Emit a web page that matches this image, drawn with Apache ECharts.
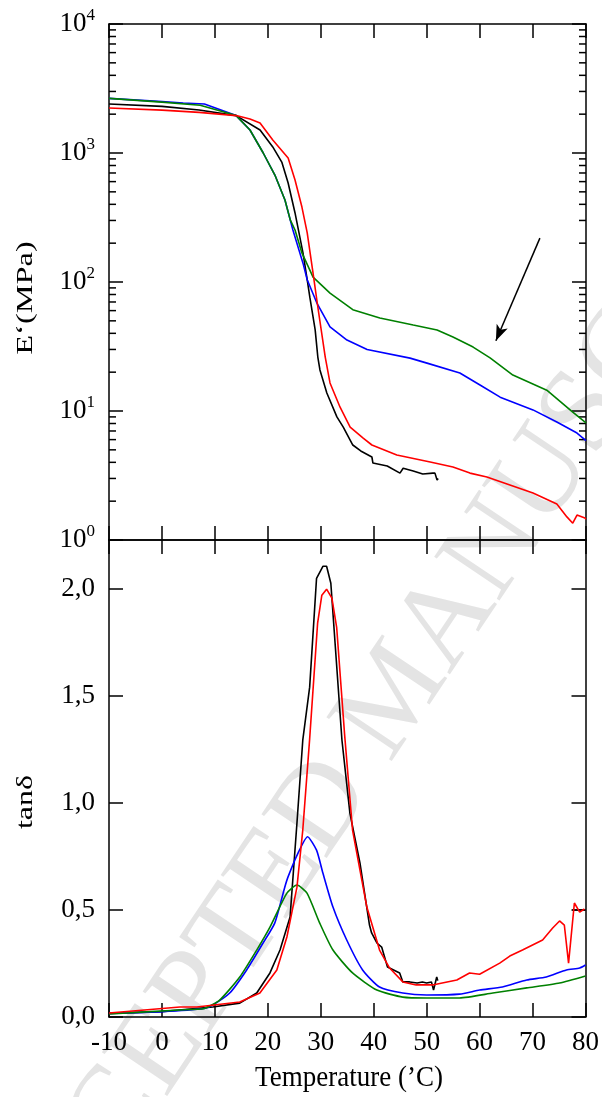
<!DOCTYPE html>
<html>
<head>
<meta charset="utf-8">
<script src="https://cdn.jsdelivr.net/npm/echarts@6/dist/echarts.min.js"></script>
<style>
  html, body { margin: 0; padding: 0; background: #fff; }
  #chart { width: 602px; height: 1097px; }
</style>
</head>
<body>
<div id="chart"></div>
<script>
// ---- data ----
// upper panel: storage modulus E' (MPa), log axis
const tBlackE = [-10, 0, 7, 14, 18.5, 20.9, 22.6, 23.8, 25.1, 26.6, 27.4, 27.9, 28.9, 29.4, 29.8, 31.1, 33.0, 34.2, 36.0, 37.5, 39.6, 39.8, 42.5, 44.9, 45.5, 47.4, 49.2, 51.1, 51.5, 51.9, 52.1];
const eBlack  = [2400, 2300, 2155, 1950, 1507, 1114, 851, 585, 343, 168, 104, 76, 42.5, 26.2, 20.8, 13.8, 9.0, 7.5, 5.45, 4.9, 4.4, 3.95, 3.75, 3.3, 3.6, 3.43, 3.25, 3.3, 3.3, 2.92, 3.0];

const tRedE = [-10, 0, 7, 14, 16.6, 18.5, 20.9, 23.8, 25.1, 26.4, 27.4, 28.5, 29.4, 30.8, 31.7, 33.6, 35.5, 37.9, 39.6, 44.3, 50.6, 54.9, 58.1, 61.3, 65.1, 70.0, 74.5, 76.4, 77.5, 78.3, 79.8, 80];
const eRed  = [2230, 2150, 2066, 1950, 1835, 1710, 1262, 915, 618, 381, 240, 117, 64, 26.2, 16.5, 10.7, 7.5, 6.18, 5.45, 4.56, 4.02, 3.68, 3.3, 3.08, 2.72, 2.31, 1.90, 1.51, 1.35, 1.56, 1.48, 1.45];

const tBlueE = [-10, 0, 4, 8, 14, 16.6, 19.1, 21.3, 23.2, 24.7, 26.6, 27.4, 29.2, 31.7, 34.9, 38.7, 46.8, 50.0, 56.2, 60.0, 63.8, 70.0, 74.5, 78.3, 80];
const eBlue  = [2650, 2500, 2440, 2400, 1950, 1507, 1000, 675, 432, 253, 140, 104, 69, 44.8, 35.5, 30, 25.7, 23.5, 19.7, 15.9, 12.8, 10.2, 8.22, 6.75, 5.9];

const tGreenE = [-10, 0, 7.2, 14, 16.6, 19.1, 21.3, 23.2, 24.2, 25.1, 26.4, 28.5, 31.7, 36.0, 41.1, 47.4, 51.9, 54.9, 58.7, 61.9, 66.2, 72.6, 77.5, 80];
const eGreen  = [2650, 2480, 2343, 1950, 1507, 1000, 675, 432, 303, 253, 168, 109, 82, 61, 52.6, 46.4, 42.5, 37.5, 31.3, 25.8, 19.0, 14.5, 9.8, 8.1];

// lower panel: tan delta
const tBlackT = [-10, 0, 9.6, 14.7, 17.9, 20.4, 22.3, 24.2, 25.5, 26.6, 27.9, 29.2, 30.4, 31.1, 31.9, 34.0, 35.5, 37.4, 39.2, 39.6, 40.6, 41.5, 42.6, 44.9, 45.5, 46.8, 48.2, 49.2, 50.0, 50.9, 51.3, 51.9, 52.1, 65, 77.5, 80];
const tanBlack = [0.017, 0.025, 0.047, 0.065, 0.112, 0.206, 0.313, 0.467, 0.907, 1.294, 1.542, 2.051, 2.107, 2.107, 2.028, 1.294, 0.953, 0.72, 0.43, 0.393, 0.346, 0.327, 0.234, 0.206, 0.164, 0.164, 0.159, 0.164, 0.159, 0.164, 0.126, 0.187, 0.17, null, 0.50, 0.50];

const tRedT = [-10, 3.4, 6.6, 14.7, 18.5, 21.7, 23.6, 25.5, 26.6, 27.9, 29.4, 30.2, 31.1, 32.1, 33.0, 34.5, 36.0, 38.7, 41.1, 43.0, 45.5, 48, 51.1, 55.7, 58.1, 60.0, 63.8, 65.7, 68.1, 71.9, 73.8, 75.1, 76.0, 76.8, 77.9, 78.9, 79.8];
const tanRed = [0.019, 0.047, 0.047, 0.070, 0.112, 0.220, 0.374, 0.607, 0.874, 1.30, 1.841, 1.972, 2.0, 1.958, 1.822, 1.32, 0.874, 0.514, 0.313, 0.229, 0.164, 0.15, 0.15, 0.173, 0.206, 0.20, 0.252, 0.285, 0.313, 0.36, 0.416, 0.449, 0.43, 0.252, 0.533, 0.49, 0.505];

const tBlueT = [-10, 0, 8, 9.6, 12.8, 16.0, 19.1, 21.3, 23.2, 23.8, 25.7, 27.5, 29.2, 30.4, 32.3, 34.9, 37.9, 41.1, 45.5, 50.0, 56.2, 60.0, 64.3, 68.9, 72.6, 76.4, 78.9, 80];
const tanBlue = [0.017, 0.025, 0.04, 0.056, 0.112, 0.220, 0.346, 0.439, 0.607, 0.654, 0.766, 0.843, 0.78, 0.673, 0.514, 0.36, 0.22, 0.14, 0.112, 0.103, 0.107, 0.126, 0.14, 0.173, 0.187, 0.22, 0.229, 0.243];

const tGreenT = [-10, 3.4, 8, 10.9, 14.7, 17.9, 20.4, 23.6, 25.5, 27.4, 29.8, 32.3, 36.0, 40.6, 45.5, 50.0, 56.2, 62.5, 68.9, 75.1, 80];
const tanGreen = [0.014, 0.033, 0.04, 0.079, 0.187, 0.313, 0.42, 0.579, 0.617, 0.579, 0.439, 0.313, 0.206, 0.126, 0.093, 0.089, 0.089, 0.112, 0.136, 0.159, 0.192];

// minor ticks of the log axis
const logMinorTicks = [];
[1, 10, 100, 1000].forEach(function (d) {
  for (let k = 2; k <= 9; k++) logMinorTicks.push(d * k);
});

// arrow in the upper panel, [temperature, E']
const arrowFrom = [71.3, 219];
const arrowTo = [63.0, 35];

const font = "'Liberation Serif', 'Times New Roman', serif";

function zip(xs, ys) {
  return xs.map(function (x, i) { return [x, ys[i]]; });
}

let chart = echarts.init(document.getElementById('chart'));

let axisLine = { show: true, onZero: false, lineStyle: { color: '#000', width: 1.5 } };
let majorTick = { show: true, inside: true, length: 14, lineStyle: { color: '#000', width: 1.5 } };

function xAx(grid, pos, labels) {
  return {
    type: 'value', gridIndex: grid, position: pos,
    min: -10, max: 80, interval: 10,
    axisLine: axisLine, axisTick: majorTick,
    splitLine: { show: false },
    axisLabel: { show: labels, fontFamily: font, fontSize: 27, color: '#000', margin: 12 }
  };
}

function line(name, xi, yi, xs, ys, color, smooth) {
  return {
    name: name, type: 'line', xAxisIndex: xi, yAxisIndex: yi,
    data: zip(xs, ys), showSymbol: false, connectNulls: false,
    smooth: smooth,
    lineStyle: { color: color, width: 1.6 }
  };
}

let option = {
  animation: false,
  backgroundColor: '#fff',
  grid: [
    { left: 109, top: 24, width: 477, height: 516 },
    { left: 109, top: 540, width: 477, height: 477 }
  ],
  graphic: [
    {
      type: 'text', z: -10, x: 398, y: 695, rotation: 0.98,
      style: {
        text: 'ACCEPTED MANUSCRIPT', fill: '#e4e4e4',
        font: '120px ' + font, align: 'center', verticalAlign: 'middle'
      }
    },
    {
      type: 'text', x: 26, y: 298, rotation: Math.PI / 2, scaleX: 1.35,
      style: { text: 'E‘(MPa)', fill: '#000', font: '24px ' + font, align: 'center', verticalAlign: 'middle' }
    },
    {
      type: 'text', x: 26, y: 802, rotation: Math.PI / 2, scaleX: 1.33,
      style: { text: 'tanδ', fill: '#000', font: '24px ' + font, align: 'center', verticalAlign: 'middle' }
    },
    {
      type: 'text', x: 349, y: 1078, scaleY: 1.1,
      style: { text: 'Temperature (’C)', fill: '#000', font: '27px ' + font, align: 'center', verticalAlign: 'middle' }
    }
  ],
  xAxis: [
    xAx(0, 'bottom', false),
    xAx(0, 'top', false),
    xAx(1, 'bottom', true),
    xAx(1, 'top', false)
  ],
  yAxis: [
    {
      type: 'log', logBase: 10, gridIndex: 0, position: 'left', min: 1, max: 10000,
      axisLine: axisLine, axisTick: majorTick, splitLine: { show: false },
      axisLabel: {
        margin: 14, color: '#000',
        formatter: function (v) {
          return '{b|10}{s|' + Math.round(Math.log10(v)) + '}';
        },
        rich: {
          b: { fontFamily: font, fontSize: 27, color: '#000' },
          s: { fontFamily: font, fontSize: 17, color: '#000', padding: [0, 0, 16, 0] }
        }
      }
    },
    {
      type: 'log', logBase: 10, gridIndex: 0, position: 'right', min: 1, max: 10000,
      axisLine: axisLine, axisTick: majorTick, splitLine: { show: false },
      axisLabel: { show: false }
    },
    {
      type: 'value', gridIndex: 1, position: 'left', min: 0, max: 2.23, interval: 0.5,
      axisLine: axisLine, axisTick: majorTick, splitLine: { show: false },
      axisLabel: {
        margin: 14, fontFamily: font, fontSize: 27, color: '#000',
        formatter: function (v) {
          if (Math.abs(v * 2 - Math.round(v * 2)) > 1e-6) return '';
          return v.toFixed(1).replace('.', ',');
        }
      }
    },
    {
      type: 'value', gridIndex: 1, position: 'right', min: 0, max: 2.23, interval: 0.5,
      axisLine: axisLine, axisTick: majorTick, splitLine: { show: false },
      axisLabel: { show: false }
    }
  ],
  series: [
    {
      name: 'minor', type: 'custom', xAxisIndex: 0, yAxisIndex: 0, clip: false, silent: true,
      data: logMinorTicks.map(function (v) { return [-10, v]; }),
      renderItem: function (params, api) {
        let y = api.coord([-10, api.value(1)])[1];
        let cs = params.coordSys;
        let st = { stroke: '#000', lineWidth: 1.5 };
        return {
          type: 'group', children: [
            { type: 'line', shape: { x1: cs.x, y1: y, x2: cs.x + 7, y2: y }, style: st },
            { type: 'line', shape: { x1: cs.x + cs.width, y1: y, x2: cs.x + cs.width - 7, y2: y }, style: st }
          ]
        };
      }
    },
    line('E black', 0, 0, tBlackE, eBlack, '#000', false),
    line('E blue', 0, 0, tBlueE, eBlue, '#0000ff', false),
    Object.assign(line('E green', 0, 0, tGreenE, eGreen, '#008000', false), {
      markLine: {
        silent: true, symbol: ['none', 'arrow'], symbolSize: [9, 16],
        label: { show: false },
        lineStyle: { color: '#000', width: 1.5, type: 'solid' },
        data: [[{ coord: arrowFrom }, { coord: arrowTo }]]
      }
    }),
    line('E red', 0, 0, tRedE, eRed, '#ff0000', false),

    line('tan black', 2, 2, tBlackT, tanBlack, '#000', false),
    line('tan blue', 2, 2, tBlueT, tanBlue, '#0000ff', 0.2),
    line('tan green', 2, 2, tGreenT, tanGreen, '#008000', 0.2),
    line('tan red', 2, 2, tRedT, tanRed, '#ff0000', false)
  ]
};

chart.setOption(option);
</script>
</body>
</html>
